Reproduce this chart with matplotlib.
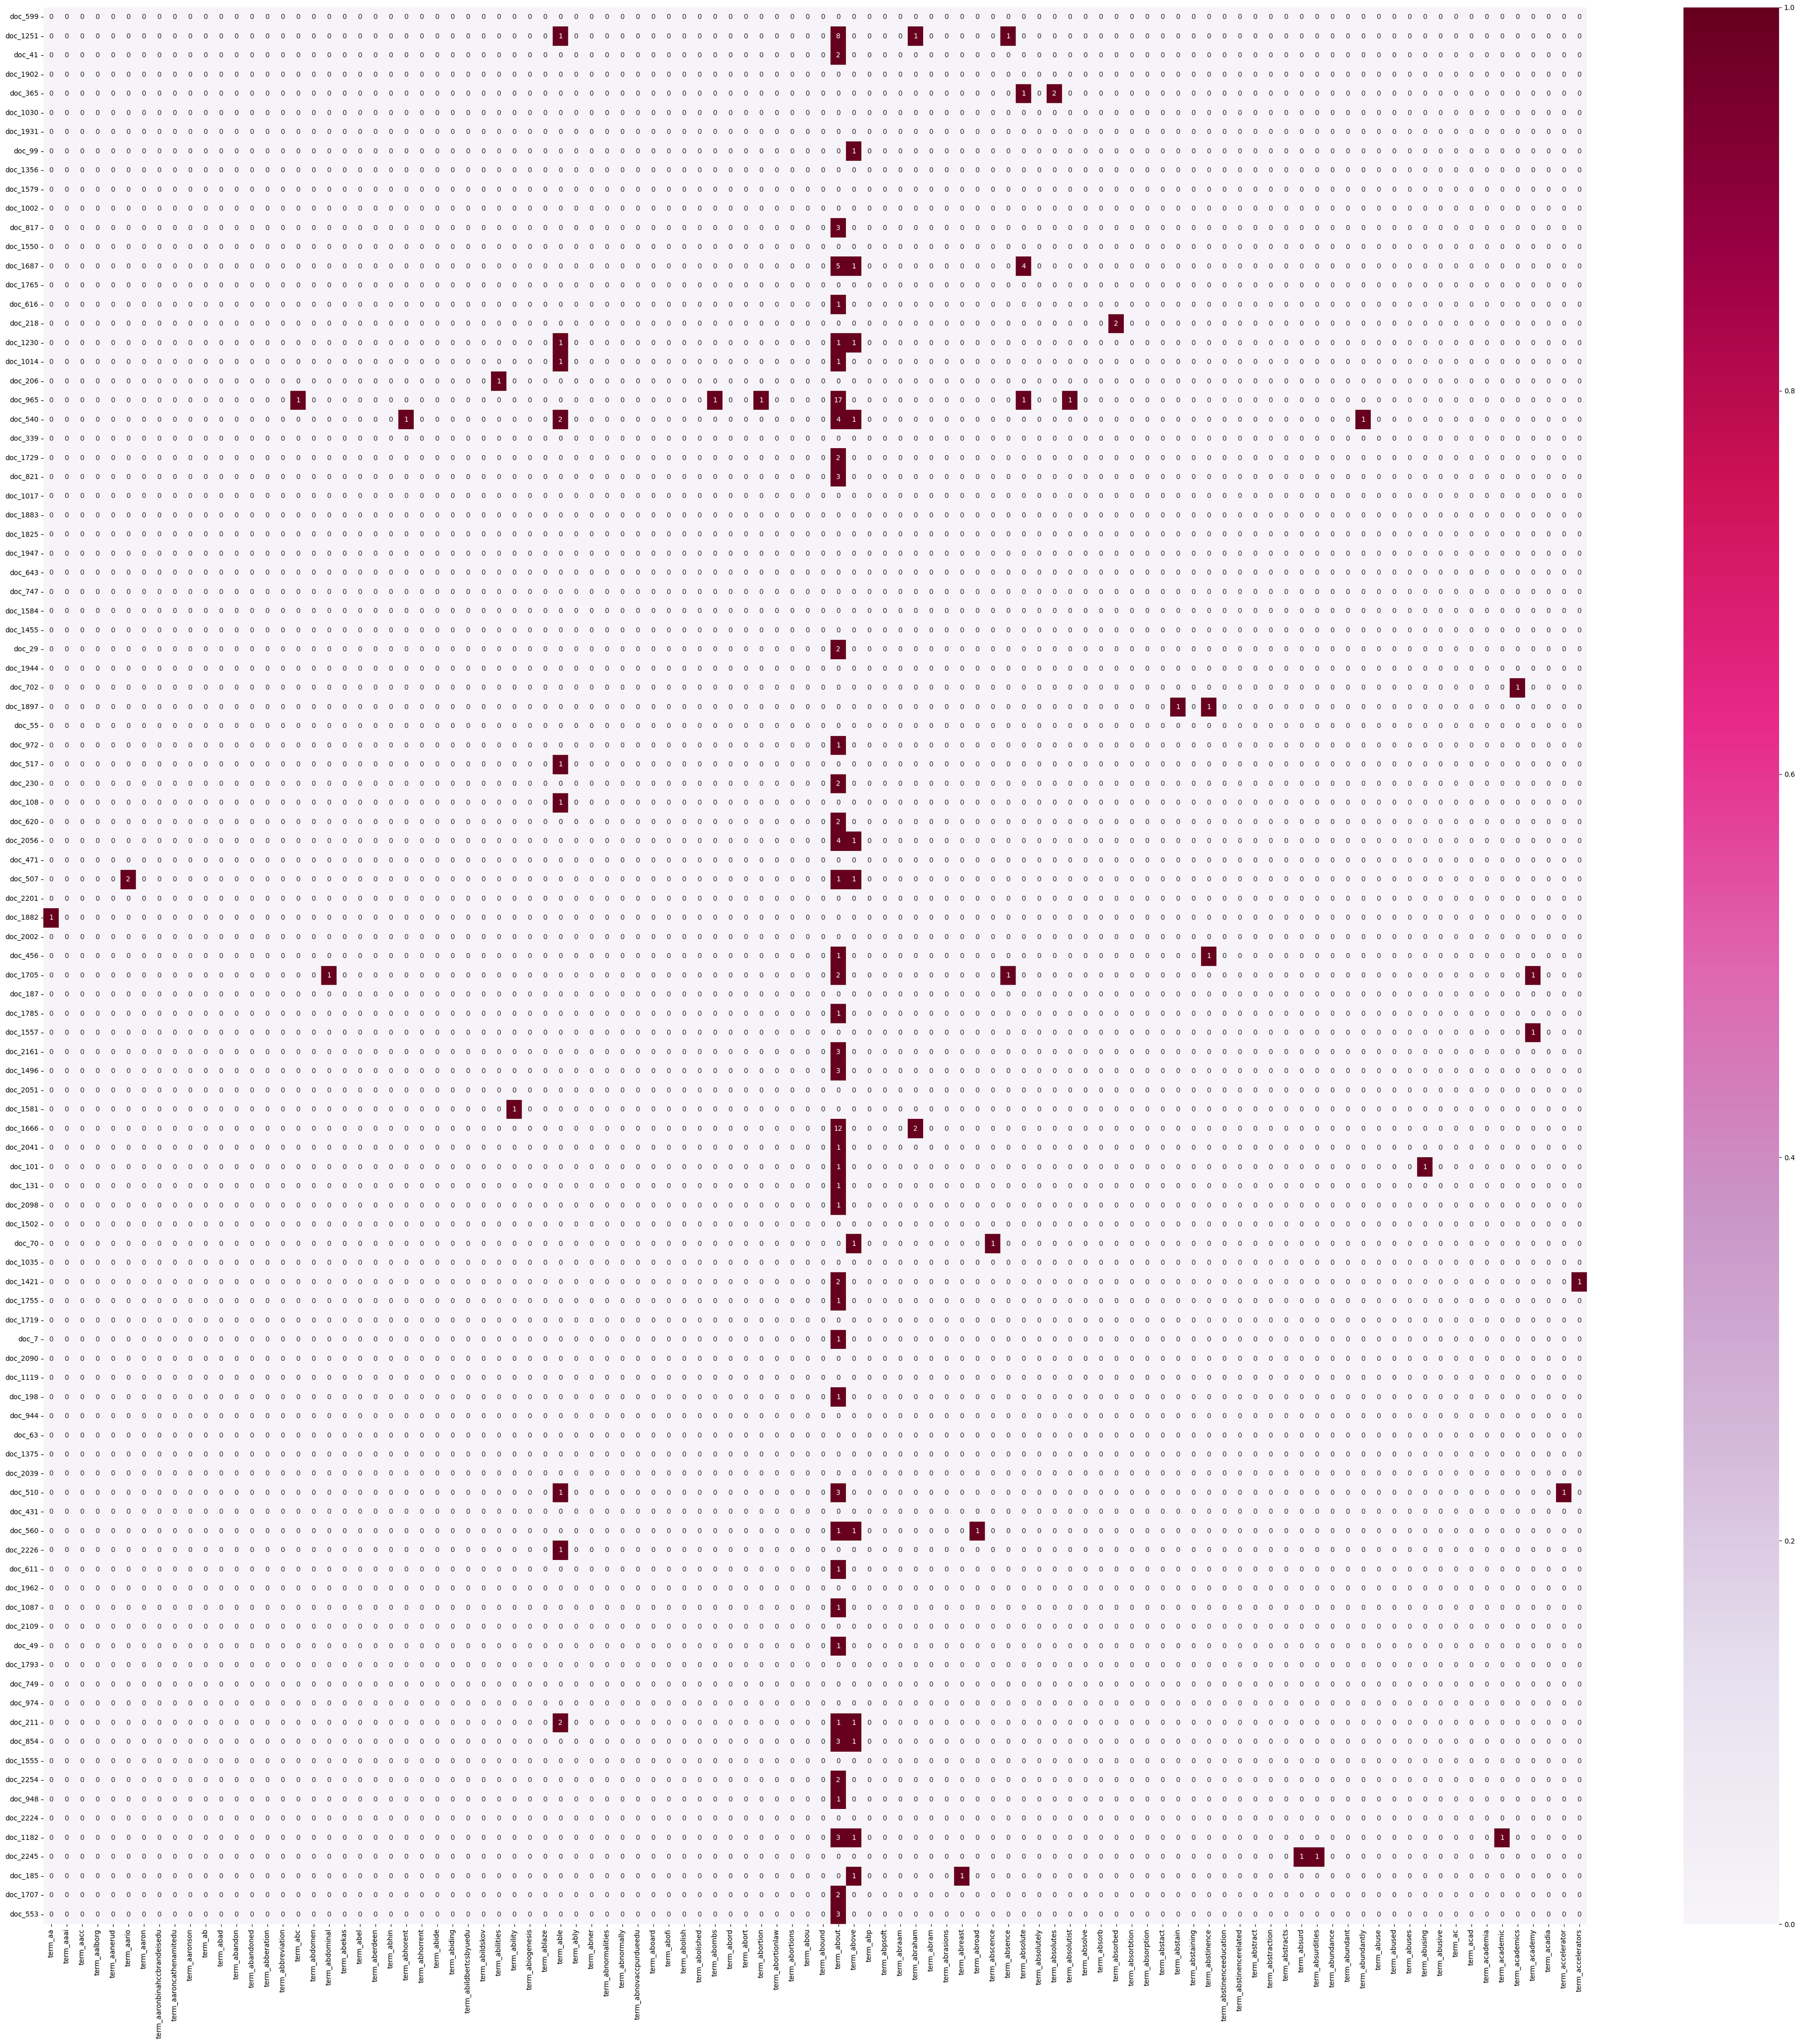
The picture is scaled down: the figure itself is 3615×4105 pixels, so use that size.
import numpy as np
import pandas as pd
import matplotlib
matplotlib.use('Agg')
import matplotlib.pyplot as plt
import seaborn as sns

docs = ['doc_599', 'doc_1251', 'doc_41', 'doc_1902', 'doc_365', 'doc_1030', 'doc_1931', 'doc_99',
        'doc_1356', 'doc_1579', 'doc_1002', 'doc_817', 'doc_1550', 'doc_1687', 'doc_1765', 'doc_616',
        'doc_218', 'doc_1230', 'doc_1014', 'doc_206', 'doc_965', 'doc_540', 'doc_339', 'doc_1729',
        'doc_821', 'doc_1017', 'doc_1883', 'doc_1825', 'doc_1947', 'doc_643', 'doc_747', 'doc_1584',
        'doc_1455', 'doc_29', 'doc_1944', 'doc_702', 'doc_1897', 'doc_55', 'doc_972', 'doc_517',
        'doc_230', 'doc_108', 'doc_620', 'doc_2056', 'doc_471', 'doc_507', 'doc_2201', 'doc_1882',
        'doc_2002', 'doc_456', 'doc_1705', 'doc_187', 'doc_1785', 'doc_1557', 'doc_2161', 'doc_1496',
        'doc_2051', 'doc_1581', 'doc_1666', 'doc_2041', 'doc_101', 'doc_131', 'doc_2098', 'doc_1502',
        'doc_70', 'doc_1035', 'doc_1421', 'doc_1755', 'doc_1719', 'doc_7', 'doc_2090', 'doc_1119',
        'doc_198', 'doc_944', 'doc_63', 'doc_1375', 'doc_2039', 'doc_510', 'doc_431', 'doc_560',
        'doc_2226', 'doc_611', 'doc_1962', 'doc_1087', 'doc_2109', 'doc_49', 'doc_1793', 'doc_749',
        'doc_974', 'doc_211', 'doc_854', 'doc_1555', 'doc_2254', 'doc_948', 'doc_2224', 'doc_1182',
        'doc_2245', 'doc_185', 'doc_1707', 'doc_553']

terms = ['term_aa', 'term_aaai', 'term_aacc', 'term_aalborg', 'term_aanerud', 'term_aario', 'term_aaron',
         'term_aaronbinahccbrandeisedu', 'term_aaroncathenamitedu', 'term_aaronson', 'term_ab', 'term_abad',
         'term_abandon', 'term_abandoned', 'term_abberation', 'term_abbreviation', 'term_abc', 'term_abdomen',
         'term_abdominal', 'term_abekas', 'term_abel', 'term_aberdeen', 'term_abhin', 'term_abhorent',
         'term_abhorrent', 'term_abide', 'term_abiding', 'term_abildbertcsbyuedu', 'term_abildskov',
         'term_abilities', 'term_ability', 'term_abiogenesis', 'term_ablaze', 'term_able', 'term_ably',
         'term_abner', 'term_abnormalities', 'term_abnormally', 'term_abnovaccpurdueedu', 'term_aboard',
         'term_abofi', 'term_abolish', 'term_abolished', 'term_abombs', 'term_abord', 'term_abort',
         'term_abortion', 'term_abortionlaw', 'term_abortions', 'term_abou', 'term_abound', 'term_about',
         'term_above', 'term_abp', 'term_abpsoft', 'term_abraam', 'term_abraham', 'term_abram',
         'term_abrasions', 'term_abreast', 'term_abroad', 'term_abscence', 'term_absence', 'term_absolute',
         'term_absolutely', 'term_absolutes', 'term_absolutist', 'term_absolve', 'term_absorb',
         'term_absorbed', 'term_absorbtion', 'term_absorption', 'term_abstact', 'term_abstain',
         'term_abstaining', 'term_abstinence', 'term_abstinenceeducation', 'term_abstinencerelated',
         'term_abstract', 'term_abstraction', 'term_abstracts', 'term_absurd', 'term_absurdities',
         'term_abundance', 'term_abundant', 'term_abundantly', 'term_abuse', 'term_abused', 'term_abuses',
         'term_abusing', 'term_abusive', 'term_ac', 'term_acad', 'term_academia', 'term_academic',
         'term_academics', 'term_academy', 'term_acadia', 'term_accelerator', 'term_accelerators']

# non-zero counts: (document, term, count)
nz_doc = ['doc_1251', 'doc_1251', 'doc_1251', 'doc_1251', 'doc_41', 'doc_365', 'doc_365', 'doc_99',
          'doc_817', 'doc_1687', 'doc_1687', 'doc_1687', 'doc_616', 'doc_218', 'doc_1230', 'doc_1230',
          'doc_1230', 'doc_1014', 'doc_1014', 'doc_206', 'doc_965', 'doc_965', 'doc_965', 'doc_965',
          'doc_965', 'doc_965', 'doc_540', 'doc_540', 'doc_540', 'doc_540', 'doc_540', 'doc_1729',
          'doc_821', 'doc_29', 'doc_702', 'doc_1897', 'doc_1897', 'doc_972', 'doc_517', 'doc_230',
          'doc_108', 'doc_620', 'doc_2056', 'doc_2056', 'doc_507', 'doc_507', 'doc_507', 'doc_1882',
          'doc_456', 'doc_456', 'doc_1705', 'doc_1705', 'doc_1705', 'doc_1705', 'doc_1785', 'doc_1557',
          'doc_2161', 'doc_1496', 'doc_1581', 'doc_1666', 'doc_1666', 'doc_2041', 'doc_101', 'doc_101',
          'doc_131', 'doc_2098', 'doc_70', 'doc_70', 'doc_1421', 'doc_1421', 'doc_1755', 'doc_7',
          'doc_198', 'doc_510', 'doc_510', 'doc_510', 'doc_560', 'doc_560', 'doc_560', 'doc_2226',
          'doc_611', 'doc_1087', 'doc_49', 'doc_211', 'doc_211', 'doc_211', 'doc_854', 'doc_854',
          'doc_2254', 'doc_948', 'doc_1182', 'doc_1182', 'doc_1182', 'doc_2245', 'doc_2245', 'doc_185',
          'doc_185', 'doc_1707', 'doc_553']
nz_term = ['term_able', 'term_about', 'term_abraham', 'term_absence', 'term_about', 'term_absolute',
           'term_absolutes', 'term_above', 'term_about', 'term_about', 'term_above', 'term_absolute',
           'term_about', 'term_absorbed', 'term_able', 'term_about', 'term_above', 'term_able', 'term_about',
           'term_abilities', 'term_abc', 'term_abombs', 'term_abortion', 'term_about', 'term_absolute',
           'term_absolutist', 'term_abhorent', 'term_able', 'term_about', 'term_above', 'term_abundantly',
           'term_about', 'term_about', 'term_about', 'term_academics', 'term_abstain', 'term_abstinence',
           'term_about', 'term_able', 'term_about', 'term_able', 'term_about', 'term_about', 'term_above',
           'term_aario', 'term_about', 'term_above', 'term_aa', 'term_about', 'term_abstinence',
           'term_abdominal', 'term_about', 'term_absence', 'term_academy', 'term_about', 'term_academy',
           'term_about', 'term_about', 'term_ability', 'term_about', 'term_abraham', 'term_about',
           'term_about', 'term_abusing', 'term_about', 'term_about', 'term_above', 'term_abscence',
           'term_about', 'term_accelerators', 'term_about', 'term_about', 'term_about', 'term_able',
           'term_about', 'term_accelerator', 'term_about', 'term_above', 'term_abroad', 'term_able',
           'term_about', 'term_about', 'term_about', 'term_able', 'term_about', 'term_above', 'term_about',
           'term_above', 'term_about', 'term_about', 'term_about', 'term_above', 'term_academic',
           'term_absurd', 'term_absurdities', 'term_above', 'term_abreast', 'term_about', 'term_about']
nz_count = [1, 8, 1, 1, 2, 1, 2, 1,
            3, 5, 1, 4, 1, 2, 1, 1,
            1, 1, 1, 1, 1, 1, 1, 17,
            1, 1, 1, 2, 4, 1, 1, 2,
            3, 2, 1, 1, 1, 1, 1, 2,
            1, 2, 4, 1, 2, 1, 1, 1,
            1, 1, 1, 2, 1, 1, 1, 1,
            3, 3, 1, 12, 2, 1, 1, 1,
            1, 1, 1, 1, 2, 1, 1, 1,
            1, 1, 3, 1, 1, 1, 1, 1,
            1, 1, 1, 2, 1, 1, 3, 1,
            2, 1, 3, 1, 1, 1, 1, 1,
            1, 2, 3]

df = pd.DataFrame(0, index=docs, columns=terms)
for d, t, c in zip(nz_doc, nz_term, nz_count):
    df.loc[d, t] = c

W, H = 3615, 4105
fig = plt.figure(figsize=(W / 100, H / 100), dpi=100)
ax = fig.add_axes([87 / W, 1 - 3864 / H, 3100 / W, 3849 / H])
cax = fig.add_axes([3381 / W, 1 - 3864 / H, 192 / W, 3849 / H])

sns.heatmap(df, ax=ax, cbar_ax=cax, cmap='PuRd', vmin=0, vmax=1,
            annot=True, fmt='d', xticklabels=terms, yticklabels=docs)

ax.set_xticklabels(terms, rotation=90)
ax.set_yticklabels(docs, rotation=0)
ax.set_xlabel('')
ax.set_ylabel('')
cax.set_yticks([0.0, 0.2, 0.4, 0.6, 0.8, 1.0])

fig.savefig('out.png', dpi=100)
